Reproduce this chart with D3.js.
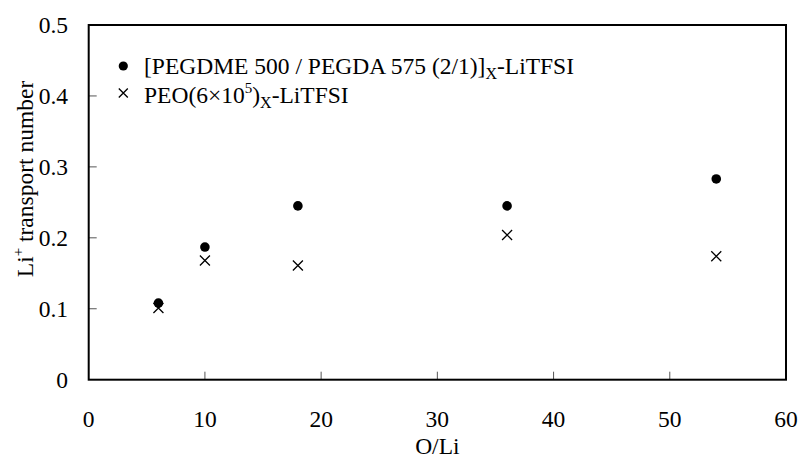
<!DOCTYPE html>
<html><head><meta charset="utf-8">
<script src="https://cdn.jsdelivr.net/npm/d3@7"></script>
<style>body{margin:0;background:#fff}svg{display:block}text{font-family:"Liberation Serif","Times New Roman",serif;fill:#000}</style>
</head><body>
<script>
const oli = [6, 10, 18, 36, 54];
const pegdme = [0.108, 0.187, 0.245, 0.245, 0.283];
const peo = [0.101, 0.168, 0.161, 0.204, 0.174];
const xTicks = [0, 10, 20, 30, 40, 50, 60];
const yTicks = [0, 0.1, 0.2, 0.3, 0.4, 0.5];

const W = 801, H = 459;
const m = {l: 88.7, r: 786, t: 25, b: 379.7};
const FS = 23.5;
const svg = d3.select("body").append("svg").attr("width", W).attr("height", H)
  .attr("font-family", "Liberation Serif, Times New Roman, serif");
const x = d3.scaleLinear().domain([0, 60]).range([m.l, m.r]);
const y = d3.scaleLinear().domain([0, 0.5]).range([m.b, m.t]);

// inner ticks
svg.append("g").selectAll("line").data(yTicks.slice(1, -1)).join("line")
  .attr("x1", m.l).attr("x2", m.l + 8).attr("y1", d => y(d)).attr("y2", d => y(d))
  .attr("stroke", "#555").attr("stroke-width", 1);
svg.append("g").selectAll("line").data(xTicks.slice(1, -1)).join("line")
  .attr("x1", d => x(d)).attr("x2", d => x(d)).attr("y1", m.b).attr("y2", m.b - 8)
  .attr("stroke", "#555").attr("stroke-width", 1);

// frame
svg.append("rect").attr("x", m.l).attr("y", m.t).attr("width", m.r - m.l).attr("height", m.b - m.t)
  .attr("fill", "none").attr("stroke", "#000").attr("stroke-width", 2);

// tick labels
svg.append("g").selectAll("text").data(yTicks).join("text")
  .attr("x", 68).attr("y", d => y(d) + 8).attr("text-anchor", "end")
  .attr("font-size", FS).text(d => d === 0 ? "0" : d3.format(".1f")(d));
svg.append("g").selectAll("text").data(xTicks).join("text")
  .attr("x", d => x(d)).attr("y", 427).attr("text-anchor", "middle")
  .attr("font-size", FS).text(d => d);

// axis titles
svg.append("text").attr("x", x(30)).attr("y", 453.5)
  .attr("text-anchor", "middle").attr("font-size", FS).text("O/Li");
const yl = svg.append("text").attr("transform", "translate(33,179) rotate(-90)")
  .attr("text-anchor", "middle").attr("font-size", FS);
yl.append("tspan").text("Li");
yl.append("tspan").attr("dy", -10).attr("font-size", 15).text("+");
yl.append("tspan").attr("dy", 10).text(" transport number");

// data
svg.append("g").selectAll("circle").data(oli).join("circle")
  .attr("cx", d => x(d)).attr("cy", (d, i) => y(pegdme[i])).attr("r", 4.8).attr("fill", "#000");
const cross = (g, cx, cy, s) => g.append("path")
  .attr("d", `M${cx - s},${cy - s}L${cx + s},${cy + s}M${cx - s},${cy + s}L${cx + s},${cy - s}`)
  .attr("stroke", "#000").attr("stroke-width", 1.3).attr("fill", "none");
const cg = svg.append("g");
oli.forEach((d, i) => cross(cg, x(d), y(peo[i]), 5));

// legend
svg.append("circle").attr("cx", 123.3).attr("cy", 66).attr("r", 4.6).attr("fill", "#000");
cross(svg, 123.3, 93, 4.5);
const l1 = svg.append("text").attr("x", 144).attr("y", 74).attr("font-size", FS);
l1.append("tspan").text("[PEGDME 500 / PEGDA 575 (2/1)]");
l1.append("tspan").attr("dy", 5).attr("font-size", 16).text("X");
l1.append("tspan").attr("dy", -5).text("-LiTFSI");
const l2 = svg.append("text").attr("x", 144).attr("y", 103).attr("font-size", FS);
l2.append("tspan").text("PEO(6×10");
l2.append("tspan").attr("dy", -10).attr("font-size", 15).text("5");
l2.append("tspan").attr("dy", 10).text(")");
l2.append("tspan").attr("dy", 5).attr("font-size", 16).text("X");
l2.append("tspan").attr("dy", -5).text("-LiTFSI");
</script>
</body></html>
